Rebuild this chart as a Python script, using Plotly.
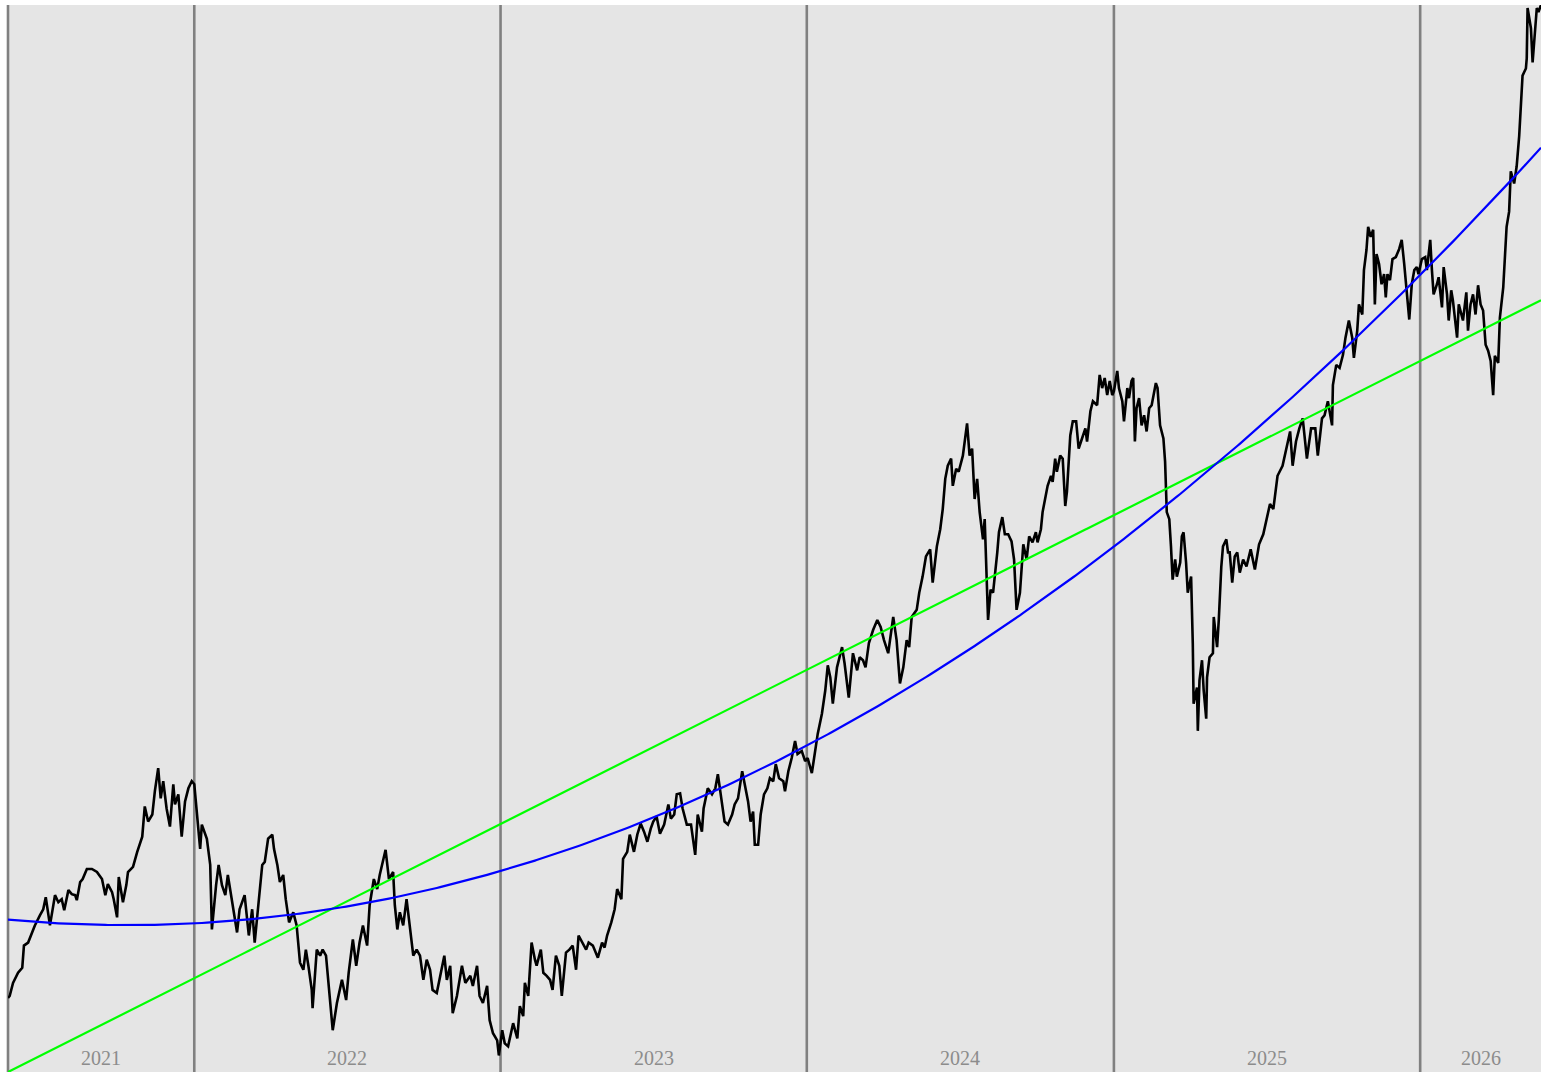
import numpy as np
import pandas as pd
import plotly.graph_objects as go

start_date = "2021-05-24"

day_offset = [
    0, 2, 6, 12, 17, 19, 24, 29, 32, 38,
    42, 45, 50, 56, 60, 64, 67, 72, 76, 80,
    82, 86, 89, 94, 100, 106, 112, 116, 119, 124,
    126, 130, 132, 137, 141, 143, 149, 154, 160, 163,
    167, 172, 175, 179, 182, 185, 189, 193, 197, 199,
    203, 207, 211, 215, 219, 222, 225, 229, 231, 237,
    241, 243, 248, 251, 255, 259, 262, 267, 273, 276,
    282, 287, 291, 294, 298, 303, 306, 310, 315, 317,
    321, 324, 328, 331, 335, 340, 344, 348, 352, 355,
    358, 362, 363, 368, 372, 375, 379, 384, 387, 392,
    398, 403, 406, 411, 415, 419, 423, 428, 431, 436,
    440, 443, 447, 450, 454, 459, 461, 464, 467, 471,
    475, 479, 483, 487, 491, 495, 499, 503, 506, 511,
    515, 520, 523, 527, 530, 535, 541, 545, 551, 554,
    559, 562, 566, 571, 574, 578, 583, 585, 589, 592,
    596, 602, 607, 610, 614, 616, 620, 624, 628, 630,
    635, 638, 642, 646, 649, 653, 657, 660, 665, 669,
    673, 677, 680, 685, 689, 692, 697, 703, 708, 711,
    714, 719, 723, 726, 731, 733, 738, 741, 746, 750,
    754, 758, 762, 766, 769, 773, 777, 782, 787, 790,
    794, 797, 801, 804, 809, 814, 819, 822, 827, 829,
    834, 839, 843, 846, 851, 854, 858, 863, 866, 870,
    875, 878, 882, 885, 888, 890, 894, 897, 901, 905,
    908, 912, 915, 919, 924, 926, 930, 934, 938, 941,
    946, 950, 953, 958, 962, 965, 970, 974, 977, 980,
    983, 988, 994, 997, 1002, 1007, 1012, 1015, 1019, 1022,
    1026, 1031, 1036, 1040, 1044, 1049, 1055, 1059, 1063, 1067,
    1071, 1074, 1077, 1083, 1086, 1090, 1094, 1099, 1102, 1107,
    1111, 1114, 1117, 1120, 1124, 1126, 1130, 1133, 1138, 1140,
    1143, 1146, 1149, 1152, 1155, 1158, 1162, 1164, 1168, 1171,
    1174, 1179, 1181, 1185, 1188, 1192, 1196, 1199, 1202, 1206,
    1210, 1214, 1217, 1221, 1225, 1227, 1231, 1233, 1237, 1239,
    1243, 1245, 1248, 1250, 1254, 1257, 1260, 1262, 1266, 1269,
    1273, 1276, 1280, 1284, 1286, 1290, 1293, 1298, 1301, 1304,
    1307, 1310, 1313, 1316, 1318, 1322, 1324, 1328, 1330, 1334,
    1336, 1339, 1341, 1343, 1345, 1348, 1351, 1354, 1357, 1360,
    1363, 1366, 1368, 1370, 1373, 1377, 1379, 1381, 1384, 1386,
    1388, 1391, 1393, 1397, 1399, 1401, 1404, 1406, 1410, 1412,
    1413, 1417, 1418, 1420, 1423, 1425, 1428, 1429, 1432, 1436,
    1437, 1441, 1443, 1446, 1448, 1452, 1454, 1456, 1459, 1462,
    1465, 1468, 1472, 1476, 1481, 1486, 1491, 1496, 1500, 1504,
    1508, 1513, 1519, 1524, 1528, 1531, 1535, 1539, 1543, 1548,
    1553, 1558, 1561, 1566, 1569, 1573, 1578, 1579, 1583, 1587,
    1591, 1594, 1596, 1598, 1602, 1604, 1608, 1610, 1614, 1616,
    1619, 1621, 1624, 1627, 1629, 1631, 1634, 1637, 1640, 1642,
    1644, 1647, 1650, 1654, 1658, 1661, 1664, 1666, 1668, 1670,
    1673, 1676, 1679, 1681, 1685, 1689, 1691, 1695, 1697, 1699,
    1703, 1705, 1709, 1711, 1715, 1717, 1720, 1722, 1727, 1729,
    1734, 1738, 1740, 1743, 1746, 1749, 1752, 1755, 1758, 1761,
    1764, 1767, 1770, 1772, 1776, 1778, 1782, 1784, 1786, 1789,
    1791, 1795, 1798, 1801, 1804, 1805, 1809, 1810, 1811, 1815,
    1817, 1820, 1822, 1824, 1827,
]

close = [
    77, 79, 92, 102, 107, 129, 132, 142, 149, 159,
    165, 177, 149, 179, 172, 175, 164, 184, 180, 179,
    174, 192, 195, 205, 205, 202, 195, 179, 190, 182,
    175, 157, 197, 172, 189, 202, 207, 222, 237, 267,
    252, 259, 282, 305, 275, 292, 265, 247, 289, 269,
    279, 237, 272, 285, 292, 289, 259, 225, 249, 235,
    209, 145, 189, 209, 189, 179, 199, 175, 142, 165,
    179, 139, 165, 132, 165, 209, 212, 235, 239, 225,
    209, 192, 199, 175, 152, 162, 149, 112, 105, 125,
    109, 85, 67, 125, 119, 125, 119, 72, 45, 72,
    95, 75, 102, 135, 109, 132, 149, 129, 169, 195,
    185, 199, 215, 224, 195, 202, 169, 145, 162, 149,
    175, 145, 119, 125, 119, 95, 115, 105, 85, 82,
    99, 119, 95, 109, 62, 79, 109, 92, 99, 89,
    109, 79, 72, 89, 55, 42, 35, 20, 45, 32,
    29, 52, 37, 69, 59, 92, 79, 132, 115, 109,
    125, 102, 99, 95, 85, 119, 109, 79, 122, 125,
    129, 105, 139, 132, 125, 132, 129, 117, 132, 127,
    139, 152, 165, 185, 175, 215, 222, 239, 222, 239,
    250, 242, 232, 245, 252, 257, 240, 249, 269, 255,
    259, 279, 280, 265, 249, 249, 219, 259, 242, 265,
    285, 279, 285, 299, 272, 252, 249, 259, 269, 275,
    302, 289, 272, 252, 262, 229, 229, 259, 279, 285,
    295, 292, 309, 295, 292, 282, 302, 315, 332, 319,
    322, 312, 315, 300, 325, 339, 359, 382, 407, 395,
    369, 405, 425, 409, 375, 419, 402, 415, 412, 405,
    429, 442, 452, 445, 432, 419, 455, 432, 389, 405,
    432, 425, 455, 462, 479, 495, 515, 522, 489, 525,
    542, 562, 592, 605, 612, 585, 602, 599, 615, 629,
    647, 615, 622, 572, 592, 559, 532, 552, 452, 482,
    479, 519, 539, 554, 537, 537, 530, 512, 462, 479,
    527, 512, 535, 529, 539, 529, 542, 559, 575, 585,
    595, 589, 612, 599, 615, 612, 565, 579, 635, 649,
    649, 622, 632, 642, 629, 659, 669, 665, 695, 682,
    692, 675, 689, 675, 679, 699, 682, 669, 649, 682,
    672, 689, 692, 629, 662, 672, 645, 655, 639, 662,
    665, 679, 687, 682, 645, 632, 609, 559, 552, 525,
    492, 512, 495, 509, 535, 539, 509, 479, 495, 429,
    369, 385, 342, 392, 412, 382, 354, 395, 415, 419,
    455, 425, 452, 505, 525, 532, 519, 519, 489, 515,
    519, 499, 512, 505, 522, 502, 527, 537, 552, 567,
    562, 595, 605, 625, 639, 605, 629, 642, 652, 612,
    642, 642, 615, 652, 655, 669, 645, 685, 705, 702,
    715, 732, 742, 749, 732, 712, 739, 765, 755, 799,
    819, 842, 832, 839, 765, 815, 805, 785, 795, 772,
    795, 789, 810, 812, 820, 829, 805, 785, 772, 750,
    785, 799, 802, 795, 810, 812, 799, 829, 799, 775,
    785, 792, 762, 802, 775, 749, 779, 769, 732, 765,
    749, 777, 739, 765, 775, 755, 784, 765, 759, 725,
    719, 709, 675, 714, 707, 752, 782, 817, 842, 857,
    897, 885, 902, 932, 979, 992, 999, 1009, 1059, 1039,
    1005, 1039, 1059, 1055, 1062,
]

years = [2021, 2022, 2023, 2024, 2025, 2026]

n = min(len(day_offset), len(close))
day_offset = day_offset[:n]
close = close[:n]

t = np.array(day_offset, dtype=float)
y = np.array(close, dtype=float)
dates = pd.Timestamp(start_date) + pd.to_timedelta(t, unit="D")

# weight each reading by the span of time it stands for (uniform-in-time fit)
edges = np.concatenate([[t[0]], (t[1:] + t[:-1]) / 2, [t[-1]]])
span = np.diff(edges)
w = np.sqrt(np.maximum(span, 1e-6))

lin = np.polyval(np.polyfit(t, y, 1, w=w), t)
quad = np.polyval(np.polyfit(t, y, 2, w=w), t)

fig = go.Figure()
fig.add_trace(go.Scatter(x=dates, y=y, mode="lines",
                         line=dict(color="black", width=2.6), showlegend=False))
fig.add_trace(go.Scatter(x=dates, y=lin, mode="lines",
                         line=dict(color="#00ff00", width=2.2), showlegend=False))
fig.add_trace(go.Scatter(x=dates, y=quad, mode="lines",
                         line=dict(color="#0000ff", width=2.2), showlegend=False))

first, last = dates[0], dates[-1]
shapes = []
annotations = []
line_style = dict(color="#808080", width=2.6)
for yr in years:
    seg_start = max(pd.Timestamp(f"{yr}-01-01"), first)
    seg_end = min(pd.Timestamp(f"{yr + 1}-01-01"), last)
    if seg_start == first:
        shapes.append(dict(type="line", xref="paper", yref="paper", x0=0, x1=0,
                           y0=0, y1=1, line=line_style, layer="below"))
    else:
        shapes.append(dict(type="line", xref="x", yref="paper", x0=seg_start, x1=seg_start,
                           y0=0, y1=1, line=line_style, layer="below"))
    mid = seg_start + (seg_end - seg_start) / 2
    annotations.append(dict(x=mid, y=0, xref="x", yref="paper", text=str(yr),
                            showarrow=False, yanchor="bottom", xanchor="center", yshift=1,
                            font=dict(family="Liberation Serif, Times New Roman, serif",
                                      size=20, color="#8c8c8c")))

ymin = float(min(y.min(), lin.min(), quad.min()))
ymax = float(max(y.max(), lin.max(), quad.max()))

fig.update_layout(
    width=1541, height=1072, autosize=False,
    margin=dict(l=8, r=0, t=5, b=0, pad=0),
    plot_bgcolor="#e5e5e5", paper_bgcolor="white",
    shapes=shapes, annotations=annotations, showlegend=False,
    hovermode=False,
    xaxis=dict(range=[first, last], showgrid=False, zeroline=False, showticklabels=False,
               ticks="", showline=False),
    yaxis=dict(range=[ymin, ymax], showgrid=False, zeroline=False, showticklabels=False,
               ticks="", showline=False),
)

fig.write_html(
    "out.html",
    config={"displayModeBar": False},
    post_script="document.body.style.margin='0';document.body.style.overflow='hidden';",
)
